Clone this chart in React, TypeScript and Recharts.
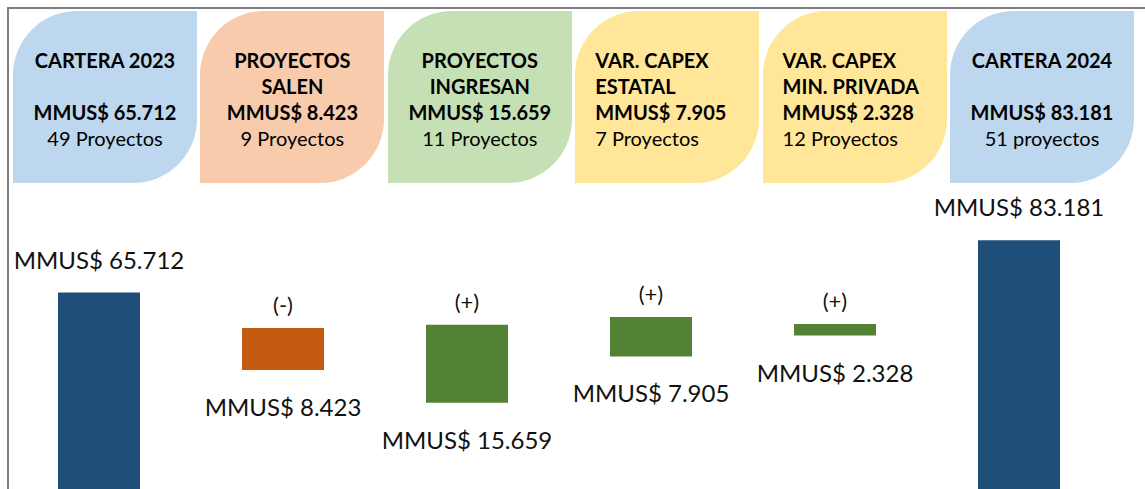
import { BarChart, Bar, XAxis, YAxis, LabelList, Cell } from 'recharts'

// pasos de la cartera (MMUS$)
const categories = ['CARTERA 2023', 'PROYECTOS SALEN', 'PROYECTOS INGRESAN', 'VAR. CAPEX ESTATAL', 'VAR. CAPEX MIN. PRIVADA', 'CARTERA 2024']
const titleLine1 = ['CARTERA 2023', 'PROYECTOS', 'PROYECTOS', 'VAR. CAPEX', 'VAR. CAPEX', 'CARTERA 2024']
const titleLine2 = ['', 'SALEN', 'INGRESAN', 'ESTATAL', 'MIN. PRIVADA', '']
const amounts = [65712, 8423, 15659, 7905, 2328, 83181]
const projectCounts = ['49 Proyectos', '9 Proyectos', '11 Proyectos', '7 Proyectos', '12 Proyectos', '51 proyectos']
const signs = ['', '(-)', '(+)', '(+)', '(+)', '']
const isTotal = [true, false, false, false, false, true]
// where each floating bar starts (MMUS$ on the change axis)
const barOffsets = [null, 23900, 17300, 26600, 30800, null]

const cardColors = ['#BDD7EE', '#F8CBAD', '#C5E0B4', '#FFE699', '#FFE699', '#BDD7EE']
const cardAlign = ['center', 'center', 'center', 'left', 'left', 'center']

const FONT = 'Lato, "Open Sans", sans-serif'
const chartMargin = { top: 10, right: 34, bottom: 0, left: 7 }

const fmt = (v: number) => String(Math.round(v)).replace(/\B(?=(\d{3})+(?!\d))/g, '.')

const totalData = categories.map((name, i) => ({
  name,
  total: isTotal[i] ? amounts[i] : null,
}))

const changeData = categories.map((name, i) => ({
  name,
  offset: isTotal[i] ? null : barOffsets[i],
  amount: isTotal[i] ? null : amounts[i],
  sign: isTotal[i] ? null : signs[i],
}))

const TotalLabel = (props: any) => {
  const { x, y, width, value } = props
  if (value == null) return null
  return (
    <text x={Number(x) + Number(width) / 2} y={Number(y) - 24} textAnchor="middle" fontSize={24} fontFamily={FONT} fill="#111">
      {`MMUS$ ${fmt(value)}`}
    </text>
  )
}

const SignLabel = (props: any) => {
  const { x, y, width, value } = props
  if (!value) return null
  return (
    <text x={Number(x) + Number(width) / 2} y={Number(y) - 15} textAnchor="middle" fontSize={22} fontFamily={FONT} fill="#111">
      {value}
    </text>
  )
}

const ValueLabel = (props: any) => {
  const { x, y, width, height, value } = props
  if (value == null) return null
  return (
    <text x={Number(x) + Number(width) / 2} y={Number(y) + Number(height) + 46} textAnchor="middle" fontSize={24} fontFamily={FONT} fill="#111">
      {`MMUS$ ${fmt(value)}`}
    </text>
  )
}

export default function App() {
  return (
    <div style={{ position: 'absolute', left: 0, top: 0, width: 1145, height: 489, overflow: 'hidden', background: '#fff', fontFamily: FONT }}>
      {/* marco */}
      <div style={{ position: 'absolute', left: 7, top: 7, width: 1138, height: 2, background: '#7f7f7f' }} />
      <div style={{ position: 'absolute', left: 7, top: 7, width: 2, height: 482, background: '#7f7f7f' }} />

      {/* tarjetas */}
      {categories.map((c, i) => (
        <div
          key={c}
          style={{
            position: 'absolute',
            left: 13 + i * 187.4,
            top: 11,
            width: 184,
            height: 172,
            background: cardColors[i],
            borderRadius: '64px 0 64px 0',
            boxSizing: 'border-box',
            padding: cardAlign[i] === 'left' ? '36px 0 0 20px' : '36px 0 0 0',
            textAlign: cardAlign[i] as any,
            fontSize: 20,
            lineHeight: '26px',
            color: '#000',
          }}
        >
          <div style={{ fontWeight: 700 }}>{titleLine1[i]}</div>
          <div style={{ fontWeight: 700 }}>{titleLine2[i] || '\u00a0'}</div>
          <div style={{ fontWeight: 700 }}>{`MMUS$ ${fmt(amounts[i])}`}</div>
          <div>{projectCounts[i]}</div>
        </div>
      ))}

      {/* carteras */}
      <div style={{ position: 'absolute', left: 0, top: 180 }}>
        <BarChart width={1145} height={309} data={totalData} margin={chartMargin}>
          <XAxis dataKey="name" hide />
          <YAxis hide domain={[0, 100000]} />
          <Bar dataKey="total" fill="#1F4E79" barSize={82} isAnimationActive={false}>
            <LabelList dataKey="total" content={TotalLabel} />
          </Bar>
        </BarChart>
      </div>

      {/* variaciones */}
      <div style={{ position: 'absolute', left: 0, top: 180 }}>
        <BarChart width={1145} height={309} data={changeData} margin={chartMargin}>
          <XAxis dataKey="name" hide />
          <YAxis hide domain={[0, 60000]} />
          <Bar dataKey="offset" stackId="w" fill="transparent" barSize={82} isAnimationActive={false} />
          <Bar dataKey="amount" stackId="w" barSize={82} isAnimationActive={false}>
            {changeData.map((d, i) => (
              <Cell key={d.name} fill={signs[i] === '(-)' ? '#C55A11' : '#548235'} />
            ))}
            <LabelList dataKey="sign" content={SignLabel} />
            <LabelList dataKey="amount" content={ValueLabel} />
          </Bar>
        </BarChart>
      </div>
    </div>
  )
}
